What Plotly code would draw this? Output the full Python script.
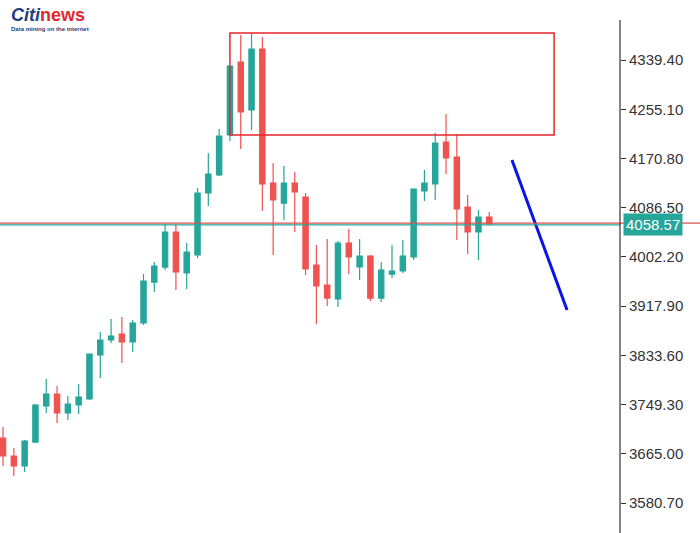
import plotly.graph_objects as go

idx = list(range(46))
open_ = [3692.1,3661.3,3644.1,3685.2,3746.9,3767.4,3734.9,3748.6,3758.9,3834.2,
         3859.9,3870.2,3856.5,3889.0,3959.2,3984.9,4044.9,3974.7,4005.5,4111.7,
         4142.5,4211.0,4336.0,4253.8,4358.3,4128.8,4094.5,4128.8,4104.8,3988.4,
         3954.1,3930.1,4026.0,3985.0,4003.8,3931.8,3972.9,3978.1,4002.1,4115.1,
         4127.1,4199.0,4173.3,4087.7,4044.9,4070.6]
high = [3710.9,3675.0,3688.7,3750.3,3793.1,3781.1,3764.0,3784.6,3835.9,3873.6,
        3895.9,3899.3,3894.2,3972.9,3993.5,4058.6,4058.6,4026.0,4120.2,4180.2,
        4221.3,4329.2,4382.3,4385.7,4378.8,4163.0,4157.9,4147.6,4111.7,4022.6,
        4032.9,4029.5,4050.0,4032.9,4005.5,3993.5,4022.6,4031.2,4118.5,4151.1,
        4214.4,4247.0,4212.7,4108.2,4082.6,4079.1]
low = [3644.1,3627.0,3633.9,3683.5,3734.9,3717.8,3722.9,3733.2,3757.2,3794.8,
       3854.8,3820.5,3839.4,3885.6,3942.1,3979.8,3945.5,3947.3,4000.3,4089.4,
       4140.8,4200.7,4187.0,4219.6,4080.8,4005.5,4065.4,4044.9,3971.2,3887.3,
       3918.1,3916.4,3972.9,3962.7,3926.7,3925.0,3966.1,3974.7,3996.9,4098.0,
       4099.7,4144.2,4031.2,4007.2,3996.9,4058.6]
close = [3661.3,3644.1,3686.9,3748.6,3767.4,3734.9,3750.3,3762.3,3835.9,3859.9,
         3866.8,3856.5,3889.0,3961.0,3986.6,4044.9,3976.4,4010.6,4111.7,4144.2,
         4209.3,4329.2,4250.4,4358.3,4127.1,4099.7,4128.8,4113.4,3981.5,3952.4,
         3931.8,4026.0,4002.1,4003.8,3931.8,3979.8,3978.1,4003.8,4118.5,4128.8,
         4197.3,4171.6,4084.3,4044.9,4070.6,4058.6]
tick_vals = [4339.40,4255.10,4170.80,4086.50,4002.20,3917.90,3833.60,3749.30,3665.00,3580.70]
last_price = 4058.57
box_x = [21.0, 51.0]
box_y = [4211.0, 4385.7]
arrow_x = [47.1, 52.2]
arrow_y = [4168.2, 3911.3]

fig = go.Figure(go.Candlestick(
    x=idx, open=open_, high=high, low=low, close=close,
    increasing=dict(line=dict(color="#26a69a", width=1.2), fillcolor="#26a69a"),
    decreasing=dict(line=dict(color="#ef5350", width=1.2), fillcolor="#ef5350"),
    whiskerwidth=0, showlegend=False, hoverinfo="skip"))

fig.add_trace(go.Scatter(x=arrow_x, y=arrow_y, mode="lines",
                         line=dict(color="#0a14e6", width=3), showlegend=False, hoverinfo="skip"))

fig.add_shape(type="rect", x0=box_x[0], x1=box_x[1], y0=box_y[0], y1=box_y[1],
              line=dict(color="#e8262b", width=1.5), fillcolor="rgba(0,0,0,0)")
fig.add_shape(type="line", xref="paper", x0=0, x1=1.14, y0=last_price + 1.5, y1=last_price + 1.5,
              line=dict(color="#d9534f", width=1.2))
fig.add_shape(type="line", xref="paper", x0=0, x1=1, y0=last_price - 1.5, y1=last_price - 1.5,
              line=dict(color="#26a69a", width=1.2))
fig.add_shape(type="line", xref="paper", yref="paper", x0=1, x1=1, y0=0, y1=1 - 20/533,
              line=dict(color="#333", width=1.2))

fig.add_annotation(xref="paper", x=1.005, y=last_price, text=f"{last_price:.2f}",
                   showarrow=False, xanchor="left", bgcolor="#26a69a",
                   font=dict(color="white", size=15, family="Liberation Sans"), borderpad=2)
fig.add_annotation(xref="paper", yref="paper", x=0.015, y=0.995, xanchor="left", yanchor="top",
                   text="<b><i><span style='color:#1f3f7a'>Citi</span></i><span style='color:#e0262e'>news</span></b>",
                   showarrow=False, font=dict(size=18, family="Liberation Sans"))
fig.add_annotation(xref="paper", yref="paper", x=0.015, y=0.955, xanchor="left", yanchor="top",
                   text="<b>Data mining on the internet</b>", showarrow=False,
                   font=dict(size=6, color="#1f3f7a", family="Liberation Sans"))

fig.update_layout(
    width=700, height=533, margin=dict(l=0, r=80, t=0, b=0, autoexpand=False),
    plot_bgcolor="white", paper_bgcolor="white", hovermode=False,
    xaxis=dict(range=[-0.28, 57.1], visible=False, rangeslider=dict(visible=False)),
    yaxis=dict(range=[3529.4, 4442.2], side="right", showgrid=False, zeroline=False,
               tickvals=tick_vals, ticktext=[f"{v:.2f}" for v in tick_vals],
               ticks="outside", ticklen=5, tickcolor="#333",
               tickfont=dict(family="Liberation Sans", size=15, color="#333")),
)
fig.write_html("out.html", config={"displayModeBar": False})
with open("out.html", encoding="utf-8") as f:
    html = f.read()
html = html.replace("<body>", '<body style="margin:0;overflow:hidden">', 1)
with open("out.html", "w", encoding="utf-8") as f:
    f.write(html)
